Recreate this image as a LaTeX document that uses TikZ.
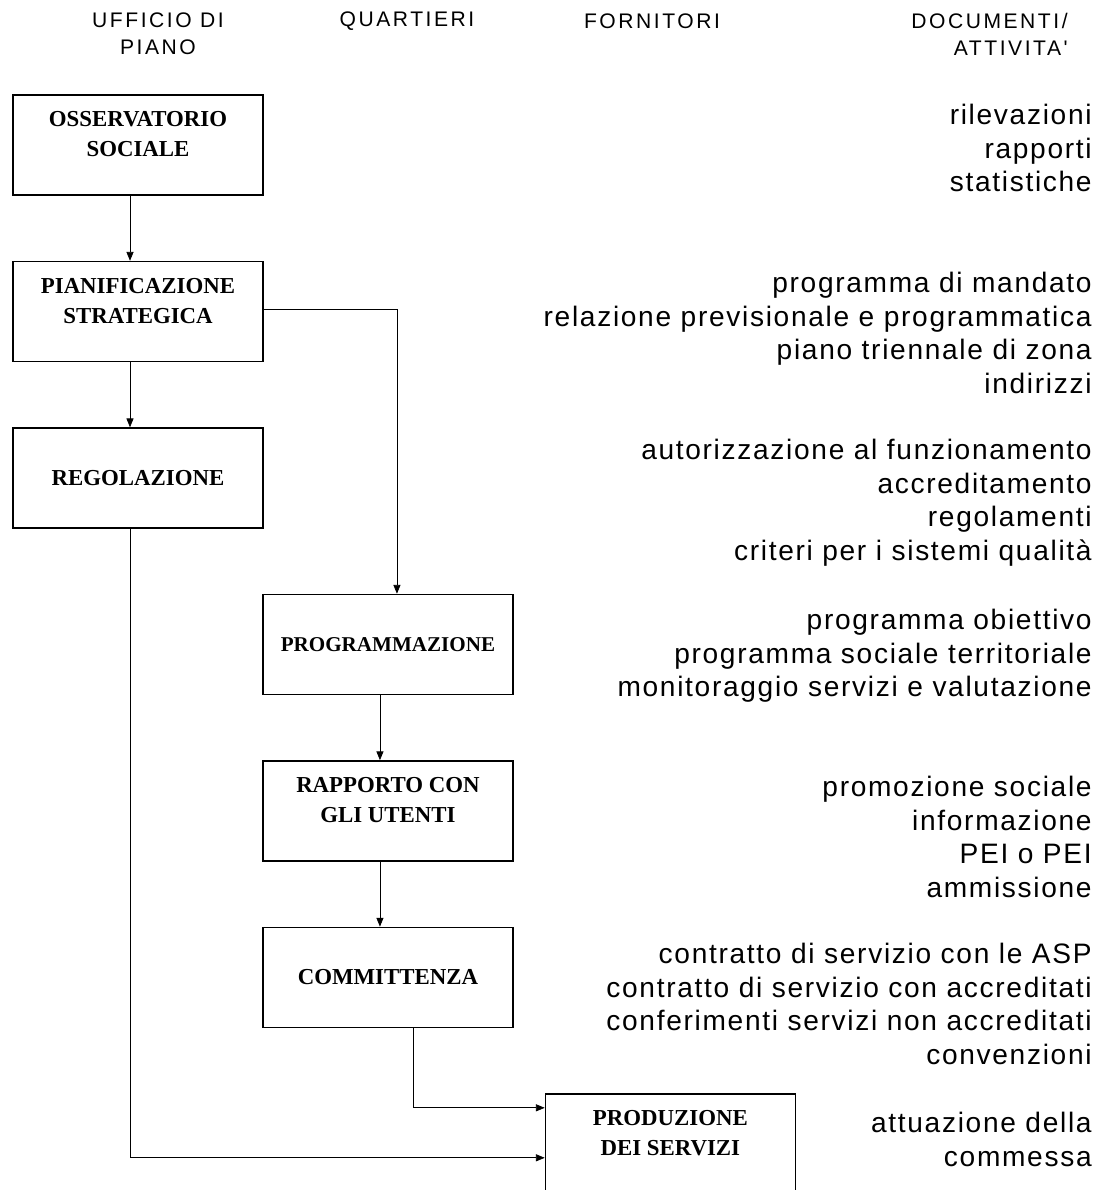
\documentclass[tikz,border=0pt]{standalone}
\usepackage{fontspec}
\setmainfont{Liberation Serif}
\newfontfamily\docfont[LetterSpace=6]{Liberation Sans}
\newfontfamily\headfont[LetterSpace=12]{Liberation Sans}
\usetikzlibrary{positioning,arrows.meta}

\begin{document}
\begin{tikzpicture}[x=0.02cm, y=-0.02cm, node distance=3.33cm,
                    main/.style = {draw, rectangle, line width=0.8pt, minimum width=5cm, minimum height=2cm, align=center, font=\bfseries\fontsize{13}{17}\selectfont},
                    doc/.style = {anchor=north east, align=right, inner sep=0pt, font=\docfont\fontsize{16}{19.1}\selectfont},
                    head/.style = {align=center, inner sep=0pt, font=\headfont\fontsize{12}{15.3}\selectfont},
                    >={Triangle[length=5pt,width=4pt]}]
                    \useasboundingbox (0,0) rectangle (1097,1190);

                    % column headers
                    \node[head] (h1) at (158,34) {UFFICIO DI\\PIANO};
                    \node[head] (h2) at (407,21) {QUARTIERI};
                    \node[head] (h3) at (652,21) {FORNITORI};
                    \node[head, align=right, anchor=north east] (h4) at (1068,13) {DOCUMENTI/\\ATTIVITA'};

                    % boxes (two-line texts sit a bit high)
                    \node[main] (1) at (138,145) {OSSERVATORIO\\SOCIALE\\[-4.6pt]\mbox{}};
                    \node[main] (2) [below of=1] {PIANIFICAZIONE\\STRATEGICA\\[-4.6pt]\mbox{}};
                    \node[main] (3) [below of=2] {REGOLAZIONE};
                    \node[main, font=\bfseries\fontsize{12}{17}\selectfont] (4) [below of=3, xshift=5cm] {PROGRAMMAZIONE};
                    \node[main] (5) [below of=4] {RAPPORTO CON\\GLI UTENTI\\[-4.6pt]\mbox{}};
                    \node[main] (6) [below of=5] {COMMITTENZA};
                    \node[main] (7) [below of=6, xshift=5.65cm] {PRODUZIONE\\DEI SERVIZI\\[-4.6pt]\mbox{}};

                    % documents and activities
                    \node[doc] (t1) at (1092,104) {rilevazioni\\rapporti\\statistiche};
                    \node[doc] (t2) at (1092,272) {programma di mandato\\relazione previsionale e programmatica\\piano triennale di zona\\indirizzi};
                    \node[doc] (t3) at (1092,439) {autorizzazione al funzionamento\\accreditamento\\regolamenti\\criteri per i sistemi qualità};
                    \node[doc] (t4) at (1092,609) {programma obiettivo\\programma sociale territoriale\\monitoraggio servizi e valutazione};
                    \node[doc] (t5) at (1092,776) {promozione sociale\\informazione\\PEI o PEI\\ammissione};
                    \node[doc] (t6) at (1092,943) {contratto di servizio con le ASP\\contratto di servizio con accreditati\\conferimenti servizi non accreditati\\convenzioni};
                    \node[doc] (t7) at (1092,1112) {attuazione della\\commessa};

                    \draw[->] ([xshift=-0.16cm]1.south) -- ([xshift=-0.16cm]2.north);
                    \draw[->] ([xshift=-0.16cm]2.south) -- ([xshift=-0.16cm]3.north);
                    \draw[->] ([yshift=0.05cm]2.east) -| ([xshift=0.18cm]4.north);
                    \draw[->] ([xshift=-0.16cm]4.south) -- ([xshift=-0.16cm]5.north);
                    \draw[->] ([xshift=-0.16cm]5.south) -- ([xshift=-0.16cm]6.north);
                    \draw[->] ([xshift=0.5cm]6.south) |- ([yshift=0.72cm]7.west);
                    \draw[->] ([xshift=-0.16cm]3.south) |- ([yshift=-0.28cm]7.west);
                \end{tikzpicture}
\end{document}
